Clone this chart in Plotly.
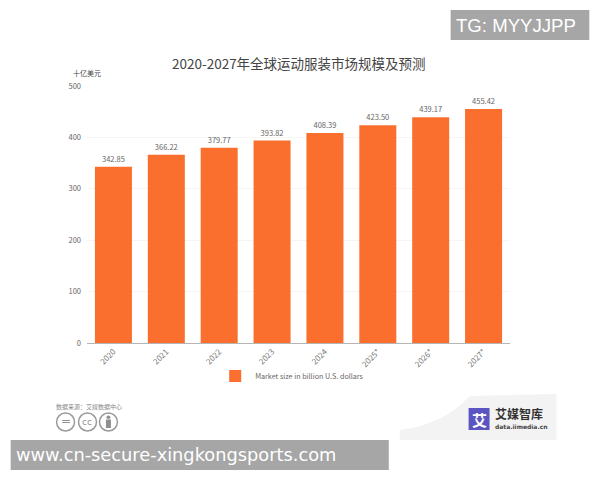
import plotly.graph_objects as go

years = ["2020", "2021", "2022", "2023", "2024", "2025*", "2026*", "2027*"]
market_size = [342.85, 366.22, 379.77, 393.82, 408.39, 423.50, 439.17, 455.42]
y_ticks = [0, 100, 200, 300, 400, 500]

# the page body adds 8px around the figure, so the figure is 8px smaller each way
PAGE_PAD = 8
W, H = 600 - PAGE_PAD, 480 - PAGE_PAD
LEFT, TOP, PLOT_W, PLOT_H = 78.5, 78, 424, 257
CJK = "Noto Sans CJK SC"
ORANGE = "#fb6f2e"
BADGE = "#8f8f8f"


def px(x):
    return (x - PAGE_PAD - LEFT) / PLOT_W


def py(y):
    return 1 - (y - PAGE_PAD - TOP) / PLOT_H


def note(x, y, text, size, color, anchor="center", family=CJK):
    fig.add_annotation(
        x=px(x), y=py(y), xref="paper", yref="paper", text=text, showarrow=False,
        xanchor=anchor, yanchor="middle", borderpad=0,
        font=dict(family=family, size=size, color=color),
    )


def box(kind, x0, y0, x1, y1, fill, line=None):
    fig.add_shape(
        type=kind, xref="paper", yref="paper",
        x0=px(x0), x1=px(x1), y0=py(y1), y1=py(y0),
        fillcolor=fill, line=line or dict(width=0),
    )


fig = go.Figure()
fig.add_trace(
    go.Bar(
        x=years,
        y=market_size,
        name="Market size in billion U.S. dollars",
        width=0.7,
        marker=dict(color=ORANGE, line=dict(width=0)),
        text=[f"{v:.2f}" for v in market_size],
        textposition="outside",
        cliponaxis=False,
        textfont=dict(family=CJK, size=7.5, color="#666666"),
    )
)

fig.update_layout(
    width=W,
    height=H,
    paper_bgcolor="white",
    plot_bgcolor="white",
    showlegend=True,
    margin=dict(l=LEFT, r=W - LEFT - PLOT_W, t=TOP, b=H - TOP - PLOT_H, autoexpand=False),
    legend=dict(
        orientation="h", x=px(215), y=py(376), xanchor="left", yanchor="middle",
        font=dict(family=CJK, size=7.2, color="#666666"),
        bgcolor="rgba(0,0,0,0)",
    ),
    xaxis=dict(
        type="category", tickangle=-45, ticks="", showgrid=False,
        showline=True, linecolor="#b5b5b5", linewidth=1,
        tickfont=dict(family=CJK, size=8, color="#777777"),
    ),
    yaxis=dict(
        range=[0, 500], tickvals=y_ticks, showgrid=True, gridcolor="#f5f5f5",
        gridwidth=1, zeroline=False, ticks="", showline=False, ticklabelstandoff=5,
        tickfont=dict(family=CJK, size=7.5, color="#666666"),
    ),
)

# title and unit
note(299, 63, "2020-2027年全球运动服装市场规模及预测", 13.5, "#444444")
note(86, 73, "十亿美元", 7, "#444444")

# source and cc badges
note(54, 406, "数据来源：艾媒数据中心", 6, "#888888", anchor="left")
for cx in [65, 87, 108]:
    box("circle", cx - 9, 413, cx + 9, 431, "white", dict(color="#9a9a9a", width=1.5))
note(65, 421, "=", 12, BADGE, family="DejaVu Sans")
note(87, 422, "cc", 9, BADGE, family="DejaVu Sans")
box("circle", 106, 415.5, 110, 419, BADGE)
box("rect", 105.5, 419.5, 110.5, 428, BADGE)

# logo block
fig.add_shape(
    type="path", xref="paper", yref="paper",
    path=(
        f"M {px(400)} {py(440)} L {px(400)} {py(430)} Q {px(445)} {py(424)} {px(470)} {py(396)} "
        f"L {px(557)} {py(394)} L {px(557)} {py(440)} Z"
    ),
    fillcolor="#f3f3f4", line=dict(width=0),
)
box("rect", 469, 408, 490, 430, "#5a55c0")
note(479.5, 419, "<b>艾</b>", 15, "white")
note(494, 413, "<b>艾媒智库</b>", 12, "#333333", anchor="left")
note(494, 426, "<b>data.iimedia.cn</b>", 6, "#444444", anchor="left", family="DejaVu Sans")

# grey banners
box("rect", 451, 10, 590, 40, "#a6a6a6")
note(455, 26, "TG: MYYJJPP", 18.6, "white", anchor="left", family="Liberation Sans")
box("rect", 10, 440, 389, 470, "#a6a6a6")
note(14, 454, "www.cn-secure-xingkongsports.com", 17.8, "white", anchor="left", family="DejaVu Sans")

fig.write_html("out.html")
